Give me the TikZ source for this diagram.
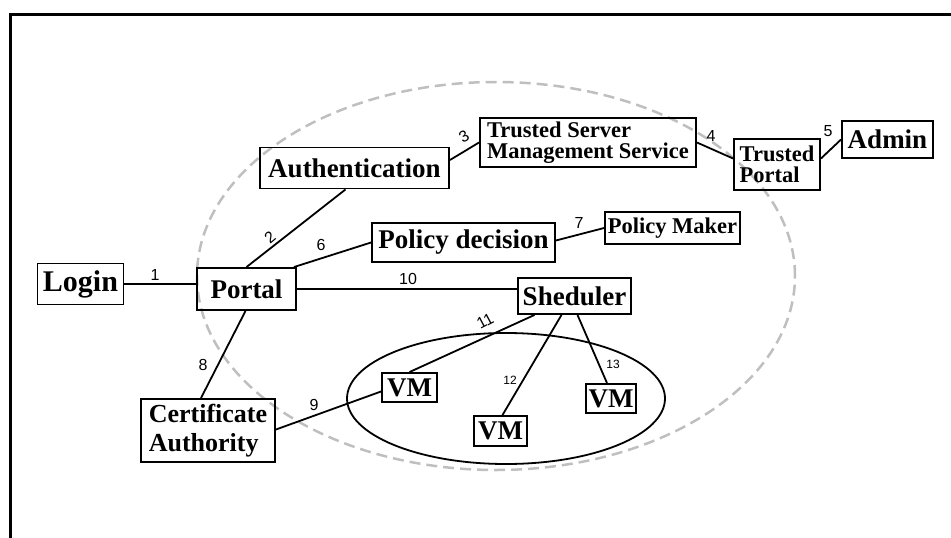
\documentclass[tikz,border=0pt]{standalone}
\usepackage{fontspec}
\setmainfont{Liberation Serif}
\newfontfamily\numfont{Liberation Sans}

\tikzset{
  box/.style={draw, line width=1.9pt, inner sep=0pt, font=\bfseries\fontsize{27}{27}\selectfont},
  smallbox/.style={box, align=left, font=\bfseries\fontsize{22.5}{21}\selectfont},
  link/.style={line width=1.8pt},
  num/.style={inner sep=0pt, font=\numfont\fontsize{16}{16}\selectfont},
  smallnum/.style={inner sep=0pt, font=\numfont\fontsize{12}{12}\selectfont},
}

\begin{document}
\begin{tikzpicture}[x=1pt, y=-1pt]
\useasboundingbox (0,0) rectangle (951,538);

% Draw frame.
\draw[line width=3pt] (10.5,538) -- (10.5,14) -- (951,14);

% Draw zones.
\draw[gray!50, line width=2.5pt, dash pattern=on 11pt off 6pt] (496,276) ellipse (299pt and 194pt);
\draw[line width=1.8pt] (506,398.5) ellipse (159pt and 65.5pt);

% Draw boxes.
\node[box, minimum width=86pt, minimum height=41pt, font=\bfseries\fontsize{30}{30}\selectfont] (login) at (80.5,284) {Login};
\node[box, minimum width=99pt, minimum height=42pt] (portal) at (246.5,289) {Portal};
\node[box, minimum width=189pt, minimum height=41pt] (auth) at (354.5,168) {Authentication};
\node[smallbox, minimum width=216pt, minimum height=49pt] (tsms) at (588,142.5) {Trusted Server\\Management Service};
\node[smallbox, minimum width=86pt, minimum height=51pt] (tportal) at (777,164.5) {Trusted\\Portal};
\node[box, minimum width=91pt, minimum height=37pt] (admin) at (887.5,139.5) {Admin};
\node[box, minimum width=183pt, minimum height=39pt] (policy) at (463.5,242.5) {Policy decision};
\node[smallbox, minimum width=135pt, minimum height=32pt] (maker) at (672.5,228) {Policy Maker};
\node[box, minimum width=113pt, minimum height=36pt] (sched) at (574.5,296) {Sheduler};
\node[box, align=left, minimum width=134pt, minimum height=63pt, font=\bfseries\fontsize{26}{29}\selectfont] (ca) at (208,430.5) {Certificate\\Authority};
\node[box, minimum width=55pt, minimum height=29pt] (vma) at (409.5,387.5) {VM};
\node[box, minimum width=53pt, minimum height=30pt] (vmb) at (500.5,431) {VM};
\node[box, minimum width=50pt, minimum height=29pt] (vmc) at (611,398.5) {VM};

% Draw links.
\draw[link] (login.east) -- (login.east -| portal.west);
\draw[link] (portal.north) -- ([xshift=-9pt]auth.south);
\draw[link] ([yshift=8pt]auth.east) -- (tsms.west);
\draw[link] (tsms.east) -- ([yshift=6pt]tportal.west);
\draw[link] ([yshift=6pt]tportal.east) -- (admin.west);
\draw[link] ([xshift=-3pt]portal.north east) -- (policy.west);
\draw[link] ([yshift=2pt]policy.east) -- (maker.west);
\draw[link] ([xshift=-1pt]portal.south) -- ([xshift=-7pt]ca.north);
\draw[link] ([yshift=1pt]ca.east) -- ([yshift=-4pt]vma.west);
\draw[link] (portal.east) -- (portal.east -| sched.west);
\draw[link] ([xshift=-40pt]sched.south) -- (vma.north);
\draw[link] ([xshift=-13pt]sched.south) -- ([xshift=2pt]vmb.north);
\draw[link] ([xshift=3pt]sched.south) -- ([xshift=-4pt]vmc.north);

% Draw numbers.
\node[num] (n1) at (155,275) {1};
\node[num, rotate=40] (n2) at (270,237) {2};
\node[num, rotate=30] (n3) at (464,137) {3};
\node[num] (n4) at (711,136) {4};
\node[num] (n5) at (828,131) {5};
\node[num] (n6) at (321,245) {6};
\node[num] (n7) at (579,223) {7};
\node[num] (n8) at (203,365) {8};
\node[num] (n9) at (314,405) {9};
\node[num] (n10) at (408,279) {10};
\node[num, rotate=28] (n11) at (485,321) {11};
\node[smallnum] (n12) at (510,380) {12};
\node[smallnum] (n13) at (613,364) {13};

\end{tikzpicture}
\end{document}
